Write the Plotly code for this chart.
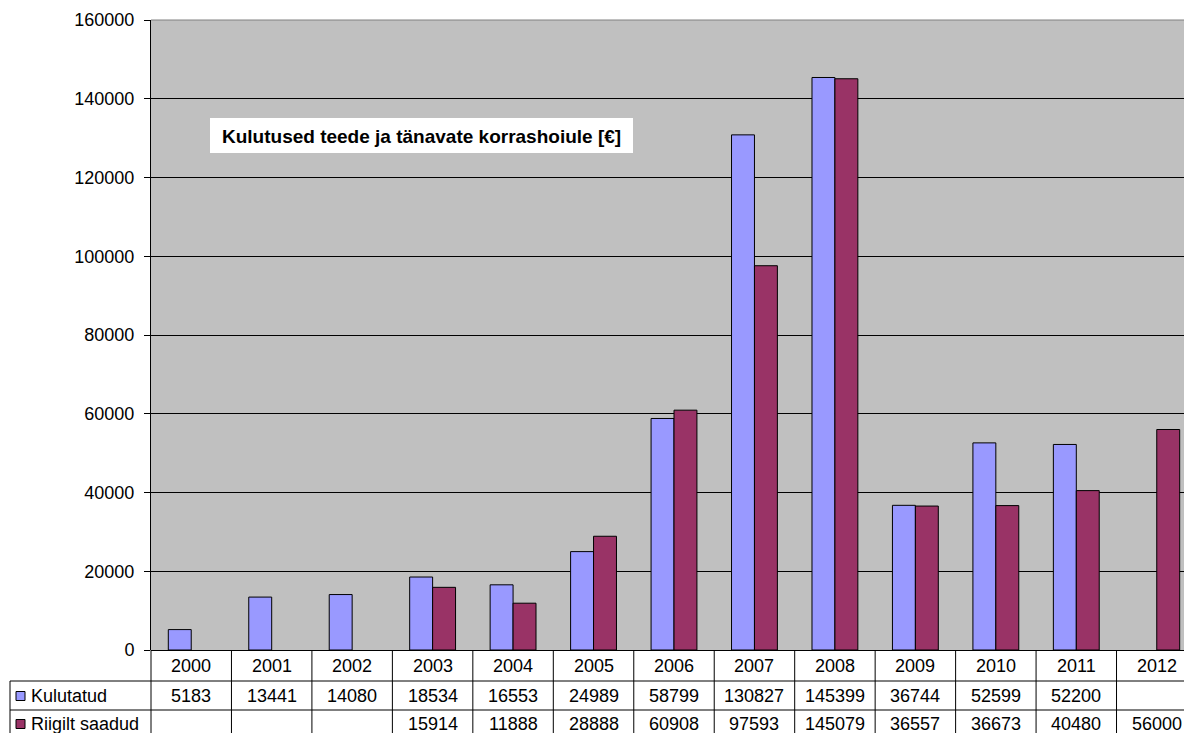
import plotly.graph_objects as go

# ---------------- data ----------------
years = ["2000", "2001", "2002", "2003", "2004", "2005", "2006",
         "2007", "2008", "2009", "2010", "2011", "2012"]
kulutatud = [5183, 13441, 14080, 18534, 16553, 24989, 58799,
             130827, 145399, 36744, 52599, 52200, None]
riigilt_saadud = [None, None, None, 15914, 11888, 28888, 60908,
                  97593, 145079, 36557, 36673, 40480, 56000]
series_names = ["Kulutatud", "Riigilt saadud"]
series_colors = ["#9999FF", "#993366"]
chart_title = "Kulutused teede ja tänavate korrashoiule [€]"
y_ticks = [0, 20000, 40000, 60000, 80000, 100000, 120000, 140000, 160000]

# ---------------- layout geometry ----------------
W, H = 1184, 733
M_L, M_R, M_T, M_B = 151, 0, 20, 83
PLOT_H = H - M_T - M_B
FONT = "Liberation Sans, Arial, sans-serif"
FS = 18


def py(pix):
    """pixel row -> paper y"""
    return (H - M_B - pix) / PLOT_H


def px(pix):
    """pixel column -> paper x"""
    return (pix - M_L) / (W - M_L - M_R)


x_idx = list(range(len(years)))

fig = go.Figure()
for name, vals, col in zip(series_names, [kulutatud, riigilt_saadud], series_colors):
    fig.add_trace(go.Bar(
        x=x_idx, y=vals, name=name,
        marker=dict(color=col, line=dict(color="#000000", width=1)),
        showlegend=False, hoverinfo="x+y+name",
    ))

shapes = []
annotations = []

# title box
shapes.append(dict(type="rect", xref="paper", yref="paper",
                   x0=px(210), x1=px(633), y0=py(118), y1=py(153),
                   fillcolor="#FFFFFF", line=dict(width=0), layer="above"))
annotations.append(dict(
    x=px(421.5), y=py(136), xref="paper", yref="paper",
    text="<b>" + chart_title + "</b>", showarrow=False,
    font=dict(family=FONT, size=19, color="#000000"),
    xanchor="center", yanchor="middle",
))

# top border of plot area (gray)
shapes.append(dict(type="line", xref="paper", yref="paper",
                   x0=0, x1=1, y0=1, y1=1,
                   line=dict(color="#808080", width=1), layer="above"))

# ---------------- data table ----------------
row_top = [650, 681, 710]
row_bot = 740
line_style = dict(color="#000000", width=1)

for r in row_top[1:]:
    shapes.append(dict(type="line", xref="paper", yref="paper",
                       x0=px(10), x1=1, y0=py(r), y1=py(r), line=line_style))
shapes.append(dict(type="line", xref="paper", yref="paper",
                   x0=0, x1=0, y0=py(650), y1=py(row_bot), line=line_style))
shapes.append(dict(type="line", xref="paper", yref="paper",
                   x0=px(10), x1=px(10), y0=py(681), y1=py(row_bot), line=line_style))
for i in x_idx:
    shapes.append(dict(type="line", xref="x", yref="paper",
                       x0=i + 0.5, x1=i + 0.5, y0=py(650), y1=py(row_bot),
                       line=line_style))

row_centers = [666, 696, 724]
for i, yr in enumerate(years):
    annotations.append(dict(x=i, y=py(row_centers[0]), xref="x", yref="paper",
                            text=yr, showarrow=False,
                            font=dict(family=FONT, size=FS, color="#000000"),
                            xanchor="center", yanchor="middle"))
for r, vals in enumerate([kulutatud, riigilt_saadud]):
    for i, v in enumerate(vals):
        if v is None:
            continue
        annotations.append(dict(x=i, y=py(row_centers[r + 1]), xref="x", yref="paper",
                                text=str(v), showarrow=False,
                                font=dict(family=FONT, size=FS, color="#000000"),
                                xanchor="center", yanchor="middle"))

# legend keys in the table
for r, (name, col) in enumerate(zip(series_names, series_colors)):
    cy = row_centers[r + 1]
    shapes.append(dict(type="rect", xref="paper", yref="paper",
                       x0=px(16), x1=px(25), y0=py(cy - 4.5), y1=py(cy + 4.5),
                       fillcolor=col, line=dict(color="#000000", width=1)))
    annotations.append(dict(x=px(29), y=py(cy), xref="paper", yref="paper",
                            text=name, showarrow=False,
                            font=dict(family=FONT, size=FS, color="#000000"),
                            xanchor="left", yanchor="middle"))

fig.update_layout(
    width=W, height=H,
    margin=dict(l=M_L, r=M_R, t=M_T, b=M_B, pad=0),
    paper_bgcolor="#FFFFFF",
    plot_bgcolor="#C0C0C0",
    barmode="group",
    bargap=0.43,
    bargroupgap=0,
    font=dict(family=FONT, size=FS, color="#000000"),
    xaxis=dict(range=[-0.5, 12.5 - 13 / 80.5], showticklabels=False,
               showgrid=False, zeroline=False, showline=False, ticks="",
               fixedrange=True),
    yaxis=dict(range=[0, 160000], tickvals=y_ticks,
               ticktext=[str(t) for t in y_ticks],
               showgrid=True, gridcolor="#000000", gridwidth=1,
               zeroline=True, zerolinecolor="#000000", zerolinewidth=1,
               showline=True, linecolor="#000000", linewidth=1,
               ticks="outside", ticklen=6, tickcolor="#000000",
               ticklabelstandoff=6,
               tickfont=dict(family=FONT, size=FS, color="#000000"),
               fixedrange=True),
    shapes=shapes,
    annotations=annotations,
)

fig.write_html(
    "out.html",
    config={"displayModeBar": False},
    post_script="document.body.style.margin='0';document.body.style.overflow='hidden';",
)
